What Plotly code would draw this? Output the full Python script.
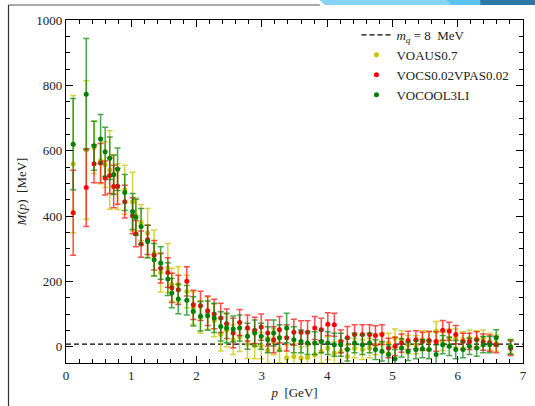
import plotly.graph_objects as go

# momenta [GeV]
p = [0.11, 0.31, 0.43, 0.53, 0.60, 0.67, 0.73, 0.79, 0.90, 1.02, 1.07, 1.15, 1.25, 1.35, 1.45,
     1.56, 1.62, 1.72, 1.85, 1.95, 2.06, 2.17, 2.27, 2.37, 2.46, 2.56, 2.66, 2.78, 2.89, 2.99,
     3.09, 3.18, 3.27, 3.38, 3.49, 3.60, 3.70, 3.81, 3.91, 4.01, 4.11, 4.21, 4.31, 4.42, 4.54,
     4.65, 4.74, 4.84, 4.94, 5.04, 5.14, 5.24, 5.36, 5.46, 5.56, 5.67, 5.77, 5.87, 5.97, 6.08,
     6.18, 6.29, 6.39, 6.49, 6.59, 6.81]

# VOAUS0.7
m_yellow = [559, 602, 610, 569, 557, 541, 528, 490, 480, 444, 400, 380, 348, 287, 227,
            241, 190, 190, 169, 118, 91, 103, 80, 37, 50, 21, 30, 9, 3, 3,
            -11, 15, -9, -35, -30, -35, -33, -25, -15, -5, -20, -15, -30, -5, -9,
            -4, 5, 11, 11, 26, 21, 6, 6, 21, 16, 47, 16, 26, 26, 21,
            26, 24, 26, 16, 11, 1]
e_yellow = [210, 212, 80, 70, 70, 120, 60, 70, 75, 90, 55, 55, 75, 70, 60,
            75, 50, 55, 50, 50, 50, 50, 50, 50, 50, 45, 45, 45, 40, 40,
            40, 40, 40, 40, 40, 35, 35, 35, 35, 35, 35, 35, 35, 30, 30,
            30, 30, 30, 30, 28, 28, 28, 28, 28, 28, 30, 28, 28, 28, 25,
            25, 25, 25, 25, 25, 22]

# VOCS0.02VPAS0.02
m_red = [410, 487, 560, 562, 516, 524, 490, 491, 444, 401, 346, 314, 327, 280, 240,
         227, 180, 174, 200, 128, 125, 110, 100, 88, 70, 42, 74, 57, 50, 60,
         42, 21, 52, 27, 44, 44, 44, 57, 52, 69, 67, 16, 27, 37, 37,
         37, 34, 37, -4, 1, 11, 19, 21, 16, 19, 16, 50, 47, 37, 16,
         16, 21, 14, 11, 6, -5]
e_red = [130, 119, 58, 60, 52, 55, 65, 55, 50, 55, 40, 40, 45, 45, 45,
         45, 45, 45, 45, 45, 45, 45, 45, 45, 45, 45, 40, 40, 40, 40,
         40, 40, 40, 40, 40, 35, 35, 35, 35, 35, 35, 35, 35, 30, 30,
         30, 30, 30, 30, 28, 28, 28, 28, 28, 28, 30, 30, 28, 28, 25,
         25, 25, 25, 25, 25, 22]

# VOCOOL3LI
m_green = [620, 773, 615, 636, 597, 577, 526, 543, 472, 414, 396, 368, 322, 266, 256,
           207, 164, 146, 142, 108, 93, 95, 88, 62, 57, 54, 57, 32, 42, 32,
           21, 42, 27, 57, 21, 16, 11, 11, 16, 11, 6, 6, -9, 11, 6,
           11, -9, -14, -24, -37, -4, -14, -9, -6, -9, -24, 6, 1, -9, -9,
           1, -4, 6, 6, 27, -1]
e_green = [140, 170, 75, 75, 75, 65, 60, 65, 55, 55, 55, 55, 50, 50, 50,
           50, 45, 45, 45, 45, 45, 45, 45, 45, 45, 40, 40, 40, 40, 40,
           40, 40, 40, 45, 40, 35, 35, 35, 35, 35, 35, 35, 35, 30, 30,
           30, 30, 30, 30, 28, 28, 28, 28, 28, 28, 30, 28, 28, 28, 25,
           25, 25, 25, 25, 25, 22]

mq_line_x = [0, 7]
mq_line_y = [8, 8]

x_ticks = [0, 1, 2, 3, 4, 5, 6, 7]
y_ticks = [0, 200, 400, 600, 800, 1000]

FONT = "Liberation Serif"

fig = go.Figure()

fig.add_trace(go.Scatter(
    x=mq_line_x, y=mq_line_y, mode="lines",
    line=dict(color="black", width=1.3, dash="5px,3px"),
    name="<i>m<sub>q</sub></i> = 8  MeV"))

series = [
    ("VOAUS0.7", m_yellow, e_yellow, "#c8c400", "rgba(200,196,0,0.75)"),
    ("VOCS0.02VPAS0.02", m_red, e_red, "#ff0000", "rgba(255,0,0,0.7)"),
    ("VOCOOL3LI", m_green, e_green, "#008000", "rgba(0,128,0,0.7)"),
]
for name, m, e, col, ecol in series:
    fig.add_trace(go.Scatter(
        x=p, y=m, mode="markers", name=name,
        marker=dict(color=col, size=5),
        error_y=dict(type="data", array=e, visible=True, color=ecol,
                     thickness=1.5, width=3)))

axis_common = dict(
    showgrid=False, zeroline=False, showline=True, linecolor="black", linewidth=1.2,
    mirror="allticks", ticks="inside", ticklen=7, tickwidth=1.2, tickcolor="black",
    tickfont=dict(family=FONT, size=13, color="#222"),
)
fig.update_xaxes(range=[0, 7], tickvals=x_ticks,
                 minor=dict(ticks="inside", ticklen=4, tickcolor="black", dtick=0.2, showgrid=False),
                 title=dict(text="<i>p</i>  [GeV]", font=dict(family=FONT, size=13, color="#222"), standoff=6),
                 **axis_common)
fig.update_yaxes(range=[-50, 1000], tickvals=y_ticks,
                 minor=dict(ticks="inside", ticklen=4, tickcolor="black", dtick=50, showgrid=False),
                 title=dict(text="<i>M</i>(<i>p</i>)  [MeV]", font=dict(family=FONT, size=13, color="#222"), standoff=6),
                 **axis_common)

L, R, T, B = 66, 8, 20, 43
W, H = 535, 406
pw, ph = W - L - R, H - T - B

def px(xp):
    return (xp - L) / pw

def py(yp):
    return (H - B - yp) / ph

shapes = [
    # slide frame lines
    dict(type="line", xref="paper", yref="paper", x0=px(8), x1=px(322), y0=py(5), y1=py(5),
         line=dict(color="#555", width=1)),
    dict(type="line", xref="paper", yref="paper", x0=px(8), x1=px(8), y0=py(5), y1=py(406),
         line=dict(color="#333", width=1.2)),
    # decorative blue band
    dict(type="path", xref="paper", yref="paper",
         path=f"M {px(322)} {py(0)} L {px(488)} {py(0)} L {px(488)} {py(5)} L {px(327)} {py(5)} Z",
         fillcolor="#86d4f2", line=dict(width=0)),
    dict(type="path", xref="paper", yref="paper",
         path=f"M {px(450)} {py(0)} L {px(488)} {py(0)} L {px(488)} {py(5)} L {px(455)} {py(5)} Z",
         fillcolor="#5cc3ec", line=dict(width=0)),
    dict(type="path", xref="paper", yref="paper",
         path=f"M {px(484)} {py(0)} L {px(540)} {py(0)} L {px(540)} {py(5)} L {px(484)} {py(5)} Z",
         fillcolor="#2f78a6", line=dict(width=0)),
]

fig.update_layout(
    width=W, height=H,
    margin=dict(l=L, r=R, t=T, b=B),
    paper_bgcolor="white", plot_bgcolor="white",
    font=dict(family=FONT, size=13, color="#222"),
    showlegend=True,
    legend=dict(x=px(359), y=1.0, xanchor="left", yanchor="top",
                bgcolor="rgba(255,255,255,0)", font=dict(family=FONT, size=13, color="#222"),
                tracegroupgap=0, itemwidth=30),
    shapes=shapes,
)

fig.write_html("out.html",
               config={"displayModeBar": False},
               post_script="document.body.style.margin='0';document.body.style.overflow='hidden';")
